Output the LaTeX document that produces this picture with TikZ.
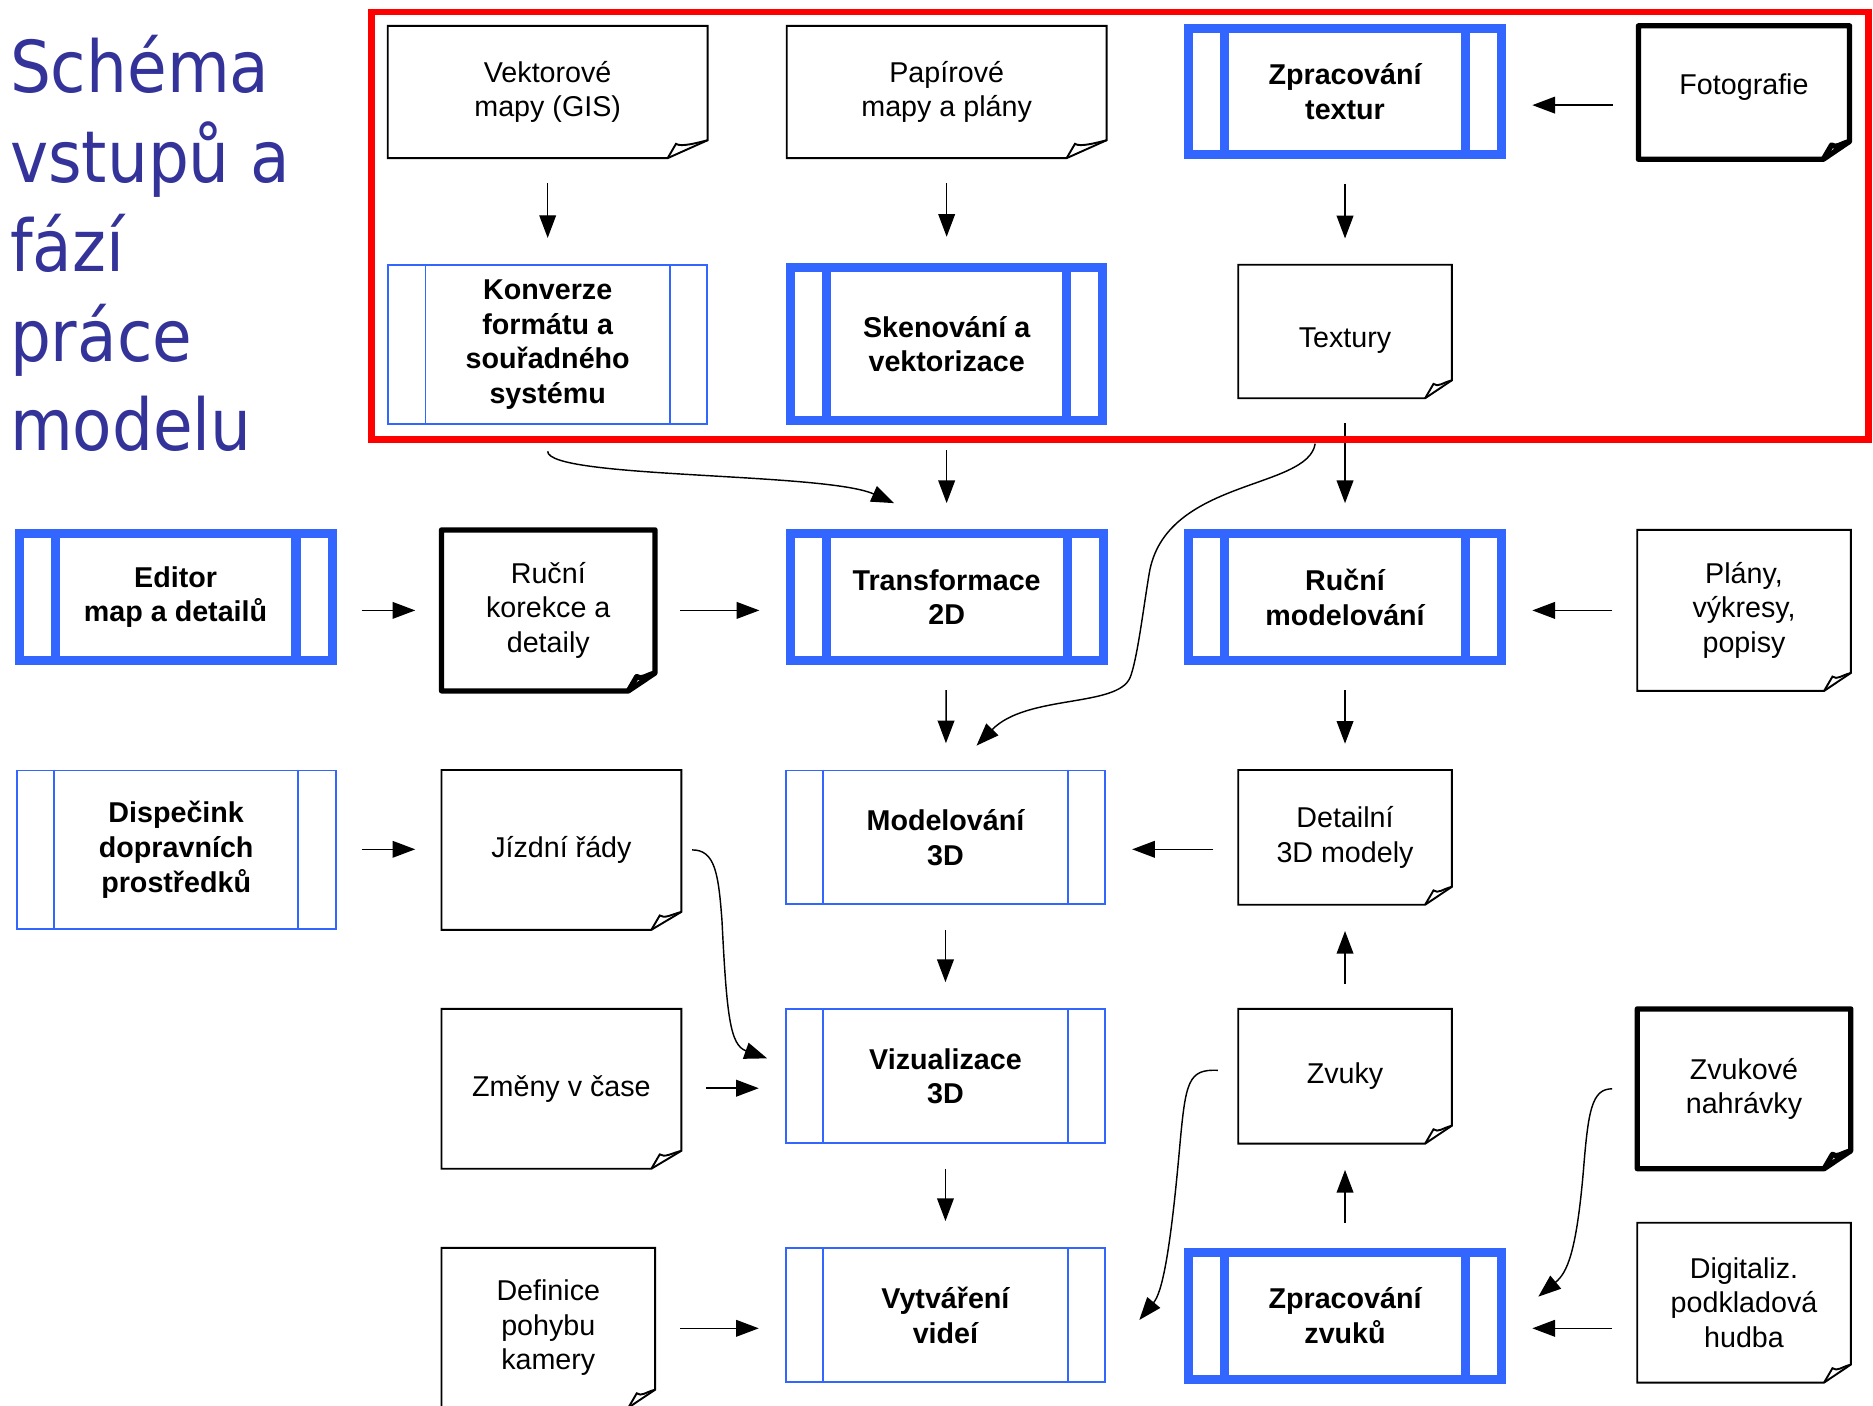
\documentclass[tikz,border=0pt]{standalone}
\usepackage{fontspec}
\setmainfont{Liberation Sans}
\newfontfamily\titlefont[FakeStretch=0.9]{DejaVu Sans}
\usetikzlibrary{arrows.meta,calc}
\definecolor{procblue}{RGB}{51,102,255}
\definecolor{titleblue}{RGB}{51,51,153}

\tikzset{
  txt/.style={align=center, inner sep=0pt, font=\fontsize{12}{14.5}\selectfont},
  doc/.style={txt, minimum width=89pt, minimum height=55.5pt},
  proc/.style={txt, draw=procblue, line width=0.8pt, minimum width=133.5pt, minimum height=56pt,
    font=\fontsize{12}{14.5}\selectfont\bfseries},
  bigproc/.style={proc, line width=3.8pt, minimum width=131pt, minimum height=53pt},
  docline/.style={line width=0.8pt},
  bigdocline/.style={line width=2.2pt, line join=round},
  flow/.style={-{Triangle[length=9.5pt,width=7pt]}, line width=0.6pt, shorten <=10.5pt, shorten >=11pt},
  curvy/.style={-{Triangle[length=9.5pt,width=7pt]}, line width=0.6pt},
}

\begin{document}
\begin{tikzpicture}[x=0.5pt, y=-0.5pt]
	\useasboundingbox (0,0) rectangle (1568,1177);
	
	% Title
	\node[anchor=north west, inner sep=0pt, align=left, text=titleblue,
	  font=\titlefont\fontsize{30}{37.5}\selectfont] (title) at (8,29) {Schéma\\vstupů a\\fází\\práce\\modelu};
	
	% Levels of the horizontal arrows
	\coordinate (r1) at (0,88);
	\coordinate (r3) at (0,511);
	\coordinate (r4) at (0,711);
	\coordinate (r5) at (0,911);
	\coordinate (r6) at (0,1112);
	
	% Row 1
	\node[doc, minimum width=133.5pt, minimum height=55pt] (vekt) at (458.5,77) {Vektorové\\mapy (GIS)};
	\node[doc, minimum width=133.5pt, minimum height=55pt] (papir) at (792.5,77) {Papírové\\mapy a plány};
	\node[bigproc, minimum height=52.5pt] (ztex) at (1126,76.5) {Zpracování\\textur};
	\node[doc, minimum width=88pt, text depth=7.5pt] (foto) at (1460,77.5) {Fotografie};
	
	% Row 2
	\node[proc, minimum height=66.5pt] (konv) at (458.5,288.5) {Konverze\\formátu a\\souřadného\\systému};
	\node[bigproc, minimum width=130.5pt, minimum height=64pt] (sken) at (792.5,288) {Skenování a\\vektorizace};
	\node[doc, text height=16pt] (textury) at (1126,277.5) {Textury};
	
	% Row 3
	\node[bigproc] (editor) at (147,500) {Editor\\map a detailů};
	\node[doc, minimum height=67pt] (korekce) at (459,511) {Ruční\\korekce a\\detaily};
	\node[bigproc] (trans) at (792.5,500) {Transformace\\2D};
	\node[bigproc] (rucmod) at (1126,500) {Ruční\\modelování};
	\node[doc, minimum height=67pt] (plany) at (1460,511) {Plány,\\výkresy,\\popisy};
	
	% Row 4
	\node[proc, minimum height=66.5pt] (disp) at (147.5,711.5) {Dispečink\\dopravních\\prostředků};
	\node[doc, minimum width=100pt, minimum height=66.5pt] (jizdni) at (470,711.5) {Jízdní řády};
	\node[proc] (mod3d) at (791.5,701) {Modelování\\3D};
	\node[doc, minimum height=56pt] (detail) at (1126,701) {Detailní\\3D modely};
	
	% Row 5
	\node[doc, minimum width=100pt, minimum height=66.5pt] (zmeny) at (470,911.5) {Změny v čase};
	\node[proc] (viz) at (791.5,901) {Vizualizace\\3D};
	\node[doc, minimum height=56pt] (zvuky) at (1126,901) {Zvuky};
	\node[doc, minimum height=66.5pt] (zvukove) at (1460,911.5) {Zvukové\\nahrávky};
	
	% Row 6
	\node[doc, minimum height=66.5pt] (definice) at (459,1111.5) {Definice\\pohybu\\kamery};
	\node[proc] (vytv) at (791.5,1101) {Vytváření\\videí};
	\node[bigproc] (zzvuk) at (1126,1101.5) {Zpracování\\zvuků};
	\node[doc, minimum height=66.5pt] (digit) at (1460,1090.5) {Digitaliz.\\podkladová\\hudba};
	
	% Document outlines with folded corner
	\foreach \n/\w in {vekt/docline,papir/docline,textury/docline,plany/docline,jizdni/docline,
	  detail/docline,zmeny/docline,zvuky/docline,definice/docline,digit/docline,
	  foto/bigdocline,korekce/bigdocline,zvukove/bigdocline} {
		\coordinate (f) at ($(\n.south west)!.875!(\n.south east)$);
		\draw[\w] (\n.north west) -- (\n.north east) -- ([yshift=7.5pt]\n.south east) -- (f) -- (\n.south west) -- cycle;
		\draw[\w] (f) -- ([shift={(3.5pt,6pt)}]f) .. controls +(2pt,-1.5pt) and +(-4pt,-1pt) .. ([yshift=7.5pt]\n.south east);
	}
	
	% Inner bars of the process boxes
	\foreach \n in {konv,disp,mod3d,viz,vytv}
		\draw[procblue, line width=0.8pt] ([xshift=16pt]\n.north west) -- ([xshift=16pt]\n.south west)
		  ([xshift=-16pt]\n.north east) -- ([xshift=-16pt]\n.south east);
	\foreach \n in {ztex,sken,editor,trans,rucmod,zzvuk}
		\draw[procblue, line width=3.8pt] ([xshift=17pt]\n.north west) -- ([xshift=17pt]\n.south west)
		  ([xshift=-17pt]\n.north east) -- ([xshift=-17pt]\n.south east);
	
	% Straight arrows
	\draw[flow] (vekt) -- (konv);
	\draw[flow] (papir) -- (sken);
	\draw[flow] (ztex) -- (textury);
	\draw[flow] (foto.west |- r1) -- (ztex.east |- r1);
	\draw[flow] (sken) -- (trans);
	\draw[flow] (textury) -- (rucmod);
	\draw[flow] (editor.east |- r3) -- (korekce.west |- r3);
	\draw[flow] (korekce.east |- r3) -- (trans.west |- r3);
	\draw[flow] (plany.west |- r3) -- (rucmod.east |- r3);
	\draw[flow] (trans) -- (mod3d);
	\draw[flow] (rucmod) -- (detail);
	\draw[flow] (disp.east |- r4) -- (jizdni.west |- r4);
	\draw[flow] (detail.west |- r4) -- (mod3d.east |- r4);
	\draw[flow] (mod3d) -- (viz);
	\draw[flow] (zvuky) -- (detail);
	\draw[flow] (zmeny.east |- r5) -- (viz.west |- r5);
	\draw[flow] (viz) -- (vytv);
	\draw[flow] (zzvuk) -- (zvuky);
	\draw[flow] (definice.east |- r6) -- (vytv.west |- r6);
	\draw[flow] (digit.west |- r6) -- (zzvuk.east |- r6);
	
	% Curved arrows
	\draw[curvy] ([yshift=-11pt]konv.south) .. controls +(0,23) and +(-58,-26) .. ([xshift=-22pt,yshift=11pt]trans.north);
	\draw[curvy] ([xshift=-12.5pt,yshift=-19pt]textury.south) .. controls +(-6,39) and +(13,-80) .. ++(-139,109)
	  .. controls +(-5,30) and +(6,-15) .. ++(-16,87)
	  .. controls +(-11,25) and +(42,-43) .. ([xshift=13pt,yshift=10pt]mod3d.north);
	\draw[curvy] ([xshift=4.5pt]jizdni.east) .. controls +(19,0) and +(-3,-40) .. ++(25,59)
	  .. controls +(4,80) and +(-31,-11) .. ([xshift=-7.5pt,yshift=7.5pt]viz.west);
	\draw[curvy] ([xshift=-8.5pt,yshift=2.5pt]zvuky.west) .. controls +(-25,-1) and +(5,-55) .. ++(-32,64)
	  .. controls +(-8,90) and +(19,-23) .. ([xshift=14pt,yshift=-2pt]vytv.east);
	\draw[curvy] ([xshift=-10.5pt]zvukove.west) .. controls +(-17,0) and +(4,-50) .. ++(-24,68)
	  .. controls +(-6,70) and +(24,-20) .. ([xshift=13.5pt,yshift=8pt]zzvuk.east);
	
	% Frame round the input block
	\draw[red, line width=2.8pt] (311,10) rectangle (1564,368);
	
\end{tikzpicture}
\end{document}
